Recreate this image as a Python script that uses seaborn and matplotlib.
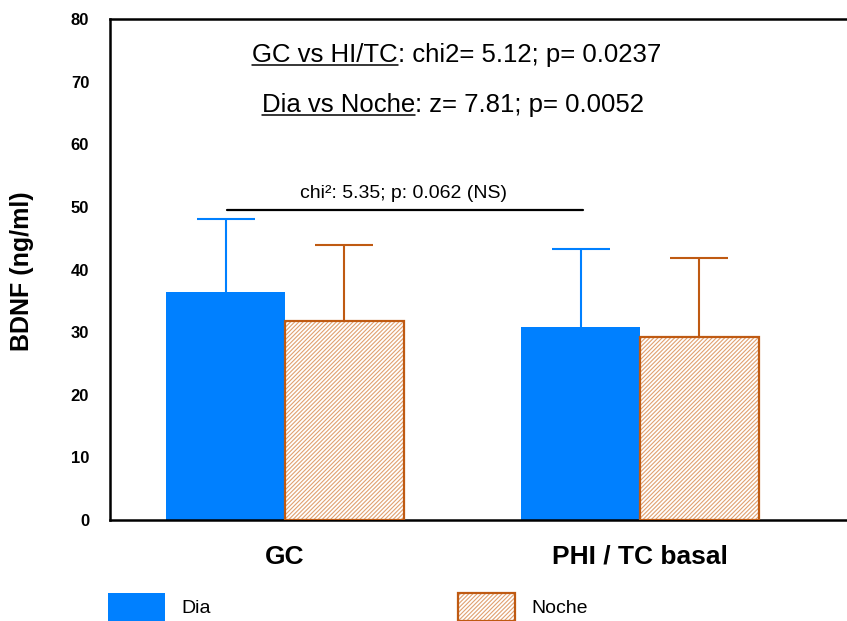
import matplotlib
matplotlib.use("Agg")
import matplotlib.pyplot as plt
from matplotlib.patches import Rectangle, Patch
from matplotlib.lines import Line2D
from matplotlib.legend_handler import HandlerTuple
import seaborn as sns
import pandas as pd
import numpy as np

# ---- data ----
groups = ["GC", "PHI / TC basal"]
series = ["Dia", "Noche"]
dia_values = [36.4, 30.8]
noche_values = [31.8, 29.3]
dia_err = [11.7, 12.5]
noche_err = [12.1, 12.6]
yticks = [0, 10, 20, 30, 40, 50, 60, 70, 80]
ylabel = "BDNF (ng/ml)"
header1 = ("GC vs HI/TC", ": chi2= 5.12; p= 0.0237")
header2 = ("Dia vs Noche", ": z= 7.81; p= 0.0052")
ns_text = "chi²: 5.35; p: 0.062 (NS)"
ns_level = 49.5

BLUE = "#0080FF"
BROWN = "#BF5A12"
HATCH = "#E0A070"

sns.set_theme(style="white")
plt.rcParams["font.family"] = ["Liberation Sans", "DejaVu Sans"]
plt.rcParams["hatch.linewidth"] = 0.8
for k in ["text.color", "axes.labelcolor", "xtick.color", "ytick.color"]:
    plt.rcParams[k] = "black"

df = pd.DataFrame({
    "grupo": groups * 2,
    "serie": [series[0]] * 2 + [series[1]] * 2,
    "valor": dia_values + noche_values,
})

fig = plt.figure(figsize=(8.47, 6.21), dpi=100)
ax = fig.add_axes([110 / 847, 101 / 621, 737 / 847, 501 / 621])

sns.barplot(data=df, x="grupo", y="valor", hue="serie", order=groups,
            hue_order=series, palette={"Dia": BLUE, "Noche": "white"},
            width=0.67, gap=0, errorbar=None, saturation=1, ax=ax,
            legend=False, linewidth=0)

dia_bars, noche_bars = ax.containers[0], ax.containers[1]
for p in dia_bars:
    p.set_edgecolor(BLUE)
    p.set_linewidth(0)
    p.set_zorder(2)
for p in noche_bars:
    p.set_facecolor("white")
    p.set_hatch("////////")
    p.set_edgecolor(HATCH)
    p.set_linewidth(0)
    p.set_zorder(2)
    ax.add_patch(Rectangle((p.get_x(), p.get_y()), p.get_width(), p.get_height(),
                           fill=False, edgecolor=BROWN, linewidth=1.6, zorder=3))

for bars, vals, errs, col in [(dia_bars, dia_values, dia_err, BLUE),
                              (noche_bars, noche_values, noche_err, BROWN)]:
    xs = [p.get_x() + p.get_width() / 2 for p in bars]
    _, caps, _ = ax.errorbar(xs, vals, yerr=[np.zeros(len(errs)), errs], fmt="none",
                             ecolor=col, elinewidth=1.5, capsize=21, capthick=1.5,
                             zorder=1)
    for c in caps:
        if np.allclose(c.get_ydata(), vals):
            c.set_visible(False)

ax.set_xlim(-0.493, 1.583)
ax.set_ylim(0, 80)
ax.set_yticks(yticks)
ax.set_yticklabels([str(t) for t in yticks],
                   family=["Liberation Sans Narrow", "Liberation Sans"],
                   fontweight="bold", fontsize=12)
ax.tick_params(axis="y", direction="in", length=7, width=1.5, pad=15, colors="black")
ax.tick_params(axis="x", length=0, pad=18)
for lab in ax.get_xticklabels():
    lab.set_fontsize(19)
    lab.set_fontweight("bold")
ax.set_xlabel("")
ax.set_ylabel(ylabel, fontsize=18, fontweight="bold")
ax.yaxis.set_label_coords(-0.103, 0.497)

for s in ["left", "top", "bottom"]:
    ax.spines[s].set_visible(True)
    ax.spines[s].set_color("black")
    ax.spines[s].set_linewidth(1.8)
ax.spines["right"].set_visible(False)

# NS comparison line
ax.plot([-0.163, 0.839], [ns_level, ns_level], color="black", lw=1.6)
ax.text(0.334, 52.2, ns_text, ha="center", va="center", fontsize=14)

# headers with underlined prefixes
W, H = 847, 621
heads = []
for (pre, post), xs, yb in [(header1, 398, 62), (header2, 415, 112)]:
    t1 = fig.text(xs / W, 1 - yb / H, pre, ha="right", va="baseline", fontsize=18.5)
    fig.text(xs / W, 1 - yb / H, post, ha="left", va="baseline", fontsize=18.5)
    heads.append((t1, yb))

# legend
h_dia = Patch(facecolor=BLUE, edgecolor=BLUE, linewidth=0)
h_noche = (Patch(facecolor="white", hatch="////////", edgecolor=HATCH, linewidth=0),
           Patch(fill=False, edgecolor=BROWN, linewidth=1.6))
fig.legend([h_dia, h_noche], series, handler_map={tuple: HandlerTuple(ndivide=1)},
           loc="upper left", bbox_to_anchor=(108 / W, 1 - 593 / H), ncol=2,
           frameon=False, fontsize=14, handlelength=2.94, handleheight=1.85,
           handletextpad=0.85, columnspacing=12.7, borderpad=0, borderaxespad=0)

fig.canvas.draw()
r = fig.canvas.get_renderer()
for t1, yb in heads:
    bb = t1.get_window_extent(renderer=r)
    yl = H - yb - 3
    fig.add_artist(Line2D([bb.x0 / W, bb.x1 / W], [yl / H, yl / H],
                          color="black", lw=1.1, transform=fig.transFigure))

fig.savefig("out.png", dpi=100)
